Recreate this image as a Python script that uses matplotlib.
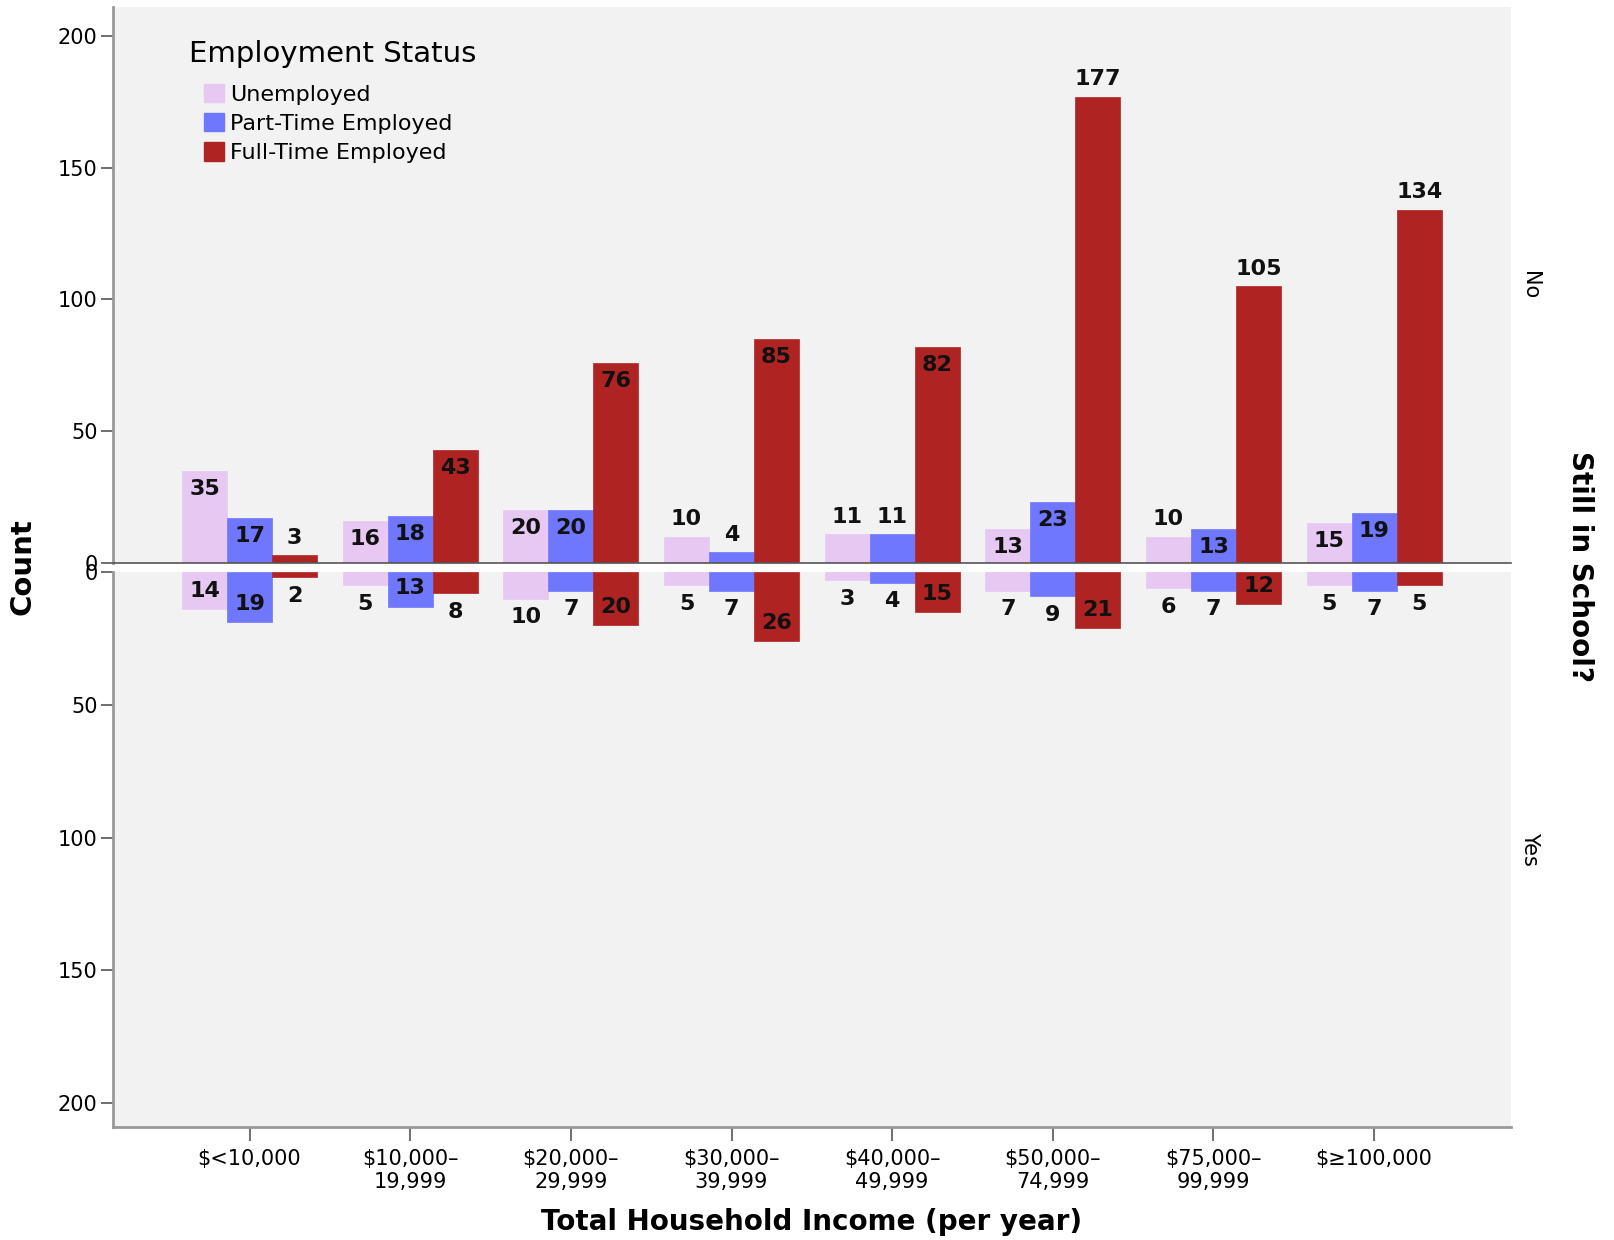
import matplotlib
matplotlib.use("Agg")
import matplotlib.pyplot as plt
from matplotlib.patches import Patch
import numpy as np

categories = ["$<10,000", "$10,000–\n19,999", "$20,000–\n29,999", "$30,000–\n39,999",
              "$40,000–\n49,999", "$50,000–\n74,999", "$75,000–\n99,999", "$\u2265100,000"]
series_names = ["Unemployed", "Part-Time Employed", "Full-Time Employed"]

# Still in School? = No
no_unemployed = [35, 16, 20, 10, 11, 13, 10, 15]
no_parttime = [17, 18, 20, 4, 11, 23, 13, 19]
no_fulltime = [3, 43, 76, 85, 82, 177, 105, 134]

# Still in School? = Yes
yes_unemployed = [14, 5, 10, 5, 3, 7, 6, 5]
yes_parttime = [19, 13, 7, 7, 4, 9, 7, 7]
yes_fulltime = [2, 8, 20, 26, 15, 21, 12, 5]

yticks = [0, 50, 100, 150, 200]

colors = ["#e6c8f2", "#6f77fe", "#b02323"]
bg = "#f2f2f2"

plt.rcParams['font.family'] = ['DejaVu Sans']

fig = plt.figure(figsize=(16.14, 12.40), dpi=100)
ax_top = fig.add_axes([0.070, 0.546, 0.866, 0.4484])
ax_bot = fig.add_axes([0.070, 0.0911, 0.866, 0.4476])

x = np.arange(len(categories))
w = 0.28
offsets = [-w, 0, w]

def draw(ax, data, inverted):
    for i, (vals, col) in enumerate(zip(data, colors)):
        bars = ax.bar(x + offsets[i], vals, width=w, color=col, edgecolor=col, linewidth=0.5, zorder=2)
        for b, v in zip(bars, vals):
            inside = 12 <= v < 100
            if not inverted:
                dy = -13 if inside else 12.5
            else:
                dy = 13 if inside else -13.5
            ax.annotate(str(v), (b.get_x() + b.get_width() / 2, v),
                        xytext=(0, dy), textcoords="offset points",
                        ha="center", va="center", fontsize=16, fontweight="bold",
                        color="#111111", zorder=3)
    ax.set_facecolor(bg)
    ax.set_xlim(-0.85, 7.85)
    ax.set_yticks(yticks)
    ax.tick_params(axis="y", labelsize=15, length=9, width=1.2, color="#555555", pad=2)
    for s in ["top", "right"]:
        ax.spines[s].set_visible(False)
    ax.spines["left"].set_color("#999999")
    ax.spines["left"].set_linewidth(2)

draw(ax_top, [no_unemployed, no_parttime, no_fulltime], False)
ax_top.set_ylim(0, 211)
ax_top.set_xticks([])
ax_top.spines["bottom"].set_color("#555555")
ax_top.spines["bottom"].set_linewidth(1.2)

draw(ax_bot, [yes_unemployed, yes_parttime, yes_fulltime], True)
ax_bot.set_ylim(209, 0)
ax_bot.set_xticks(x)
ax_bot.set_xticklabels(categories, fontsize=15)
ax_bot.tick_params(axis="x", length=10, width=1.2, color="#555555", pad=6)
ax_bot.spines["bottom"].set_color("#999999")
ax_bot.spines["bottom"].set_linewidth(2)

# Legend
ax_top.text(0.0547, 0.915, "Employment Status", transform=ax_top.transAxes,
            fontsize=21, ha="left", va="center")
handles = [Patch(facecolor=c, edgecolor=c) for c in colors]
leg = ax_top.legend(handles, series_names, loc="upper left", bbox_to_anchor=(0.065, 0.862),
                    frameon=False, fontsize=16, handlelength=0.9, handleheight=0.9,
                    handletextpad=0.3, labelspacing=0.38, borderaxespad=0, borderpad=0)

ax_bot.set_xlabel("Total Household Income (per year)", fontsize=20, fontweight="bold", labelpad=11)
fig.text(0.014, 0.543, "Count", rotation=90, fontsize=21, fontweight="bold", ha="center", va="center")
fig.text(0.979, 0.543, "Still in School?", rotation=-90, fontsize=20, fontweight="bold", ha="center", va="center")
fig.text(0.948, 0.770, "No", rotation=-90, fontsize=15, ha="center", va="center")
fig.text(0.948, 0.315, "Yes", rotation=-90, fontsize=15, ha="center", va="center")

fig.savefig("out.png", dpi=100, facecolor="white")
